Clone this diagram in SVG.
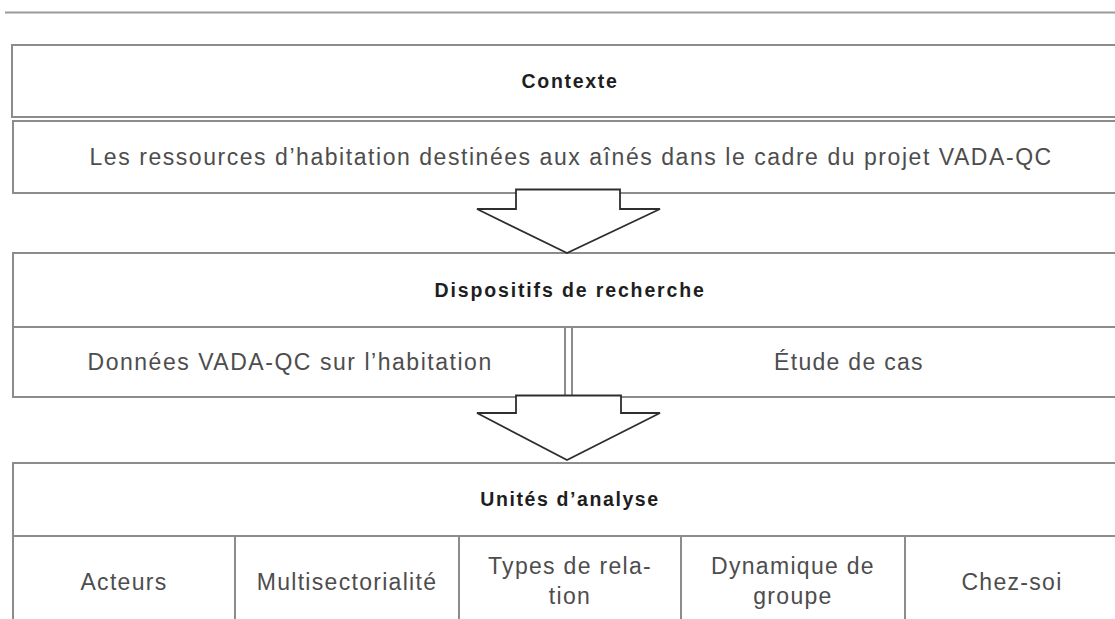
<svg xmlns="http://www.w3.org/2000/svg" width="1115" height="619" viewBox="0 0 1115 619">
  <style>
    .box { fill: #ffffff; stroke: #8c8c8c; stroke-width: 2; }
    .hd { font-family: "Liberation Sans", Arial, sans-serif; font-weight: bold; font-size: 19.5px; fill: #1e1e1e; text-anchor: middle; letter-spacing: 1.6px; }
    .tx { font-family: "Liberation Sans", Arial, sans-serif; font-size: 23px; fill: #4d4d4d; text-anchor: middle; letter-spacing: 1.3px; }
    .arrow { fill: #ffffff; stroke: #2e2e2e; stroke-width: 1.8; stroke-linejoin: miter; }
  </style>
  <rect width="1115" height="619" fill="#ffffff"/>
  <line x1="5" y1="12.5" x2="1115" y2="12.5" stroke="#9a9a9a" stroke-width="2"/>

  <g id="contexte">
    <rect class="box" x="12" y="45" width="1110" height="72"/>
    <text class="hd" x="570" y="88" textLength="97" lengthAdjust="spacing">Contexte</text>
  </g>
  <g id="ressources">
    <rect class="box" x="13" y="121" width="1110" height="72"/>
    <text class="tx" x="571" y="165" textLength="963" lengthAdjust="spacing">Les ressources d’habitation destinées aux aînés dans le cadre du projet VADA-QC</text>
  </g>

  <g id="dispositifs">
    <rect class="box" x="13" y="253" width="1110" height="74"/>
    <text class="hd" x="570" y="297" textLength="271" lengthAdjust="spacing">Dispositifs de recherche</text>
  </g>
  <g id="donnees">
    <rect class="box" x="13" y="327" width="552" height="70"/>
    <text class="tx" x="290" y="370" textLength="405" lengthAdjust="spacing">Données VADA-QC sur l’habitation</text>
  </g>
  <g id="etude">
    <rect class="box" x="572" y="327" width="551" height="70"/>
    <text class="tx" x="849" y="370">Étude de cas</text>
  </g>

  <g id="unites">
    <rect class="box" x="13" y="463" width="1110" height="73"/>
    <text class="hd" x="570" y="506">Unités d’analyse</text>
  </g>
  <g id="acteurs">
    <rect class="box" x="13" y="536" width="222" height="90"/>
    <text class="tx" x="124" y="590">Acteurs</text>
  </g>
  <g id="multisectorialite">
    <rect class="box" x="235" y="536" width="224" height="90"/>
    <text class="tx" x="347" y="590">Multisectorialité</text>
  </g>
  <g id="types">
    <rect class="box" x="459" y="536" width="222" height="90"/>
    <text class="tx" x="570" y="574">Types de rela-</text>
    <text class="tx" x="570" y="604">tion</text>
  </g>
  <g id="dynamique">
    <rect class="box" x="681" y="536" width="224" height="90"/>
    <text class="tx" x="793" y="574">Dynamique de</text>
    <text class="tx" x="793" y="604">groupe</text>
  </g>
  <g id="chezsoi">
    <rect class="box" x="905" y="536" width="218" height="90"/>
    <text class="tx" x="1012" y="590">Chez-soi</text>
  </g>

  <g id="connectors">
    <polygon class="arrow" points="516,189.5 620,189.5 620,209 660,209 567,253 477,209 516,209"/>
    <polygon class="arrow" points="516,395.5 621,395.5 621,413 660,413 567,460 477,413 516,413"/>
  </g>
</svg>
